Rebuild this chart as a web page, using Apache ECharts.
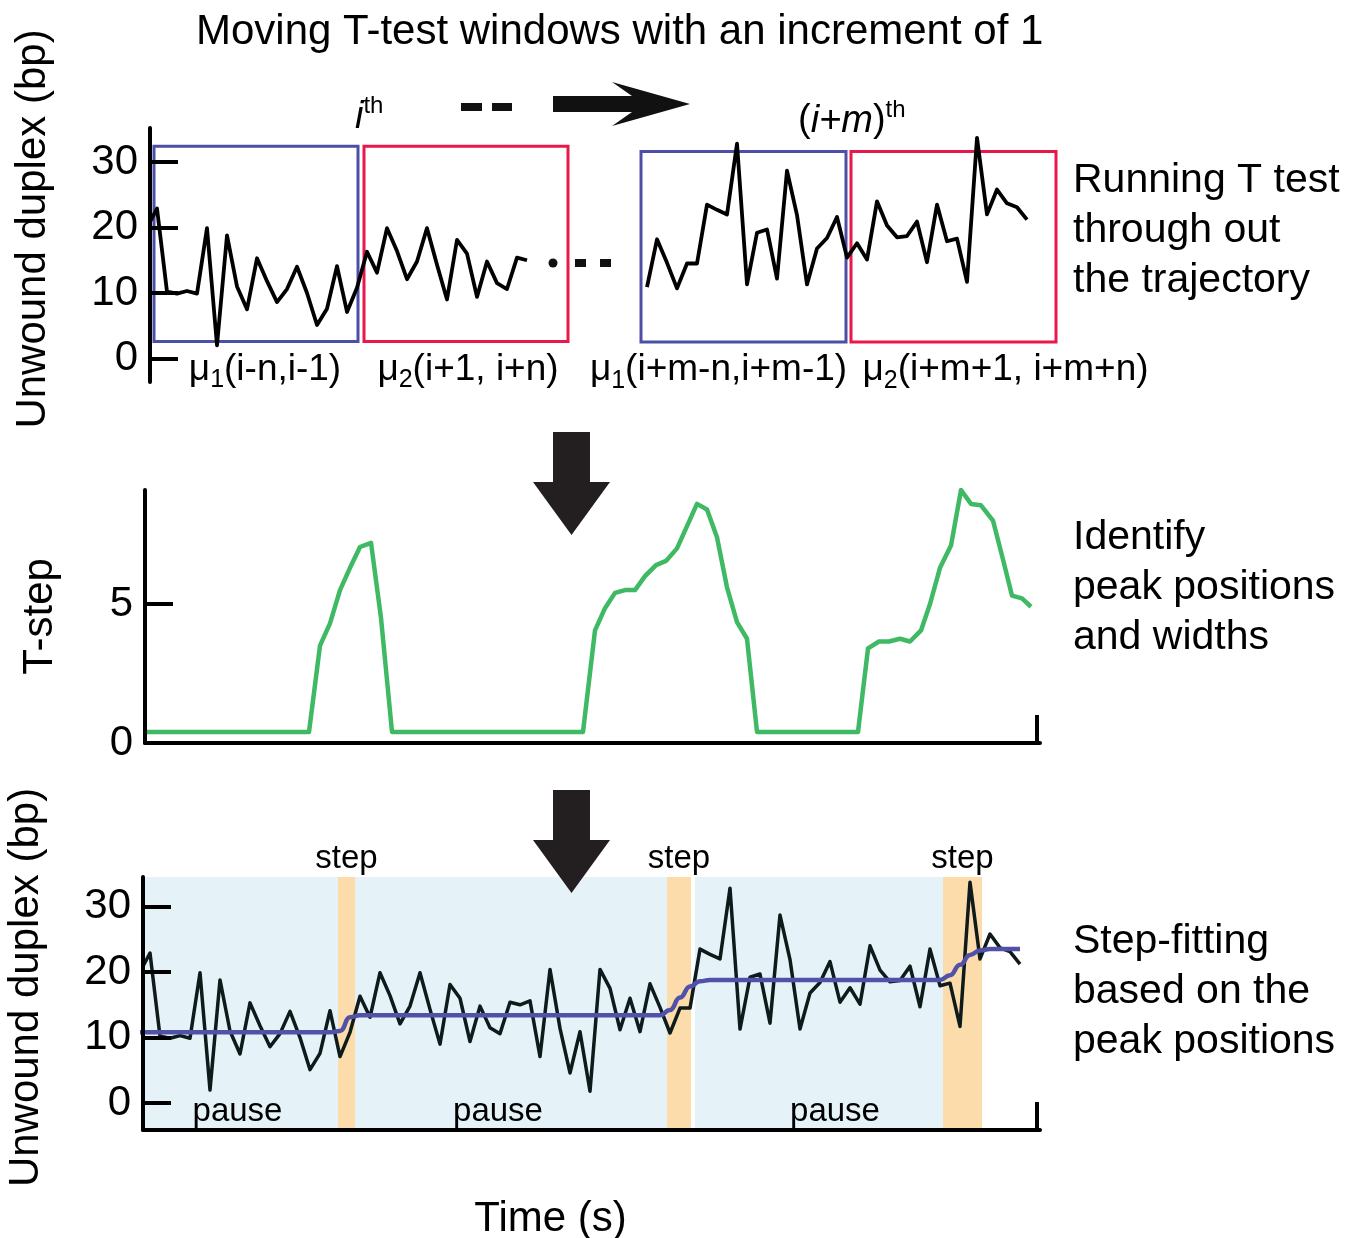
<!DOCTYPE html>
<html>
<head>
<meta charset="utf-8">
<title>Moving T-test step fitting</title>
<script src="https://cdn.jsdelivr.net/npm/echarts@6/dist/echarts.min.js"></script>
<style>
  html, body { margin: 0; padding: 0; background: #fff; }
  #chart { width: 1363px; height: 1238px; }
</style>
</head>
<body>
<div id="chart"></div>
<script>
// unwound duplex (bp), one value per time point
const duplex = [
  20.0, 22.9, 10.2, 9.9, 10.3, 9.9, 19.9, 2.0, 18.8, 11.0,
  7.5, 15.3, 11.8, 8.6, 10.6, 14.0, 10.0, 5.1, 7.6, 14.1,
  7.1, 10.8, 16.3, 13.1, 19.9, 16.4, 12.1, 14.8, 19.9, 14.3,
  9.0, 18.1, 16.0, 9.4, 14.8, 11.5, 10.6, 15.4, 15.0, 15.6,
  7.1, 20.4, 11.4, 4.6, 10.9, 1.8, 20.4, 17.5, 11.2, 16.0,
  10.9, 18.2, 14.6, 10.7, 14.5, 14.5, 23.5, 22.7, 22.0, 32.8,
  11.3, 19.2, 19.7, 12.2, 28.7, 21.9, 11.3, 16.8, 18.4, 21.6,
  15.4, 17.6, 15.1, 24.0, 20.3, 18.5, 18.7, 20.9, 14.7, 23.5,
  17.9, 18.3, 11.7, 33.7, 22.0, 25.8, 23.7, 23.1, 21.2
]

// step-fitting result on the same time points
const stepFit = [
  10.8, 10.8, 10.8, 10.8, 10.8, 10.8, 10.8, 10.8, 10.8, 10.8,
  10.8, 10.8, 10.8, 10.8, 10.8, 10.8, 10.8, 10.8, 10.8, 10.8,
  11.0, 13.1, 13.4, 13.4, 13.4, 13.4, 13.4, 13.4, 13.4, 13.4,
  13.4, 13.4, 13.4, 13.4, 13.4, 13.4, 13.4, 13.4, 13.4, 13.4,
  13.4, 13.4, 13.4, 13.4, 13.4, 13.4, 13.4, 13.4, 13.4, 13.4,
  13.4, 13.4, 13.4, 14.2, 16.1, 17.8, 18.6, 18.8, 18.8, 18.8,
  18.8, 18.8, 18.8, 18.8, 18.8, 18.8, 18.8, 18.8, 18.8, 18.8,
  18.8, 18.8, 18.8, 18.8, 18.8, 18.8, 18.8, 18.8, 18.8, 18.8,
  18.8, 19.5, 21.1, 22.6, 23.3, 23.5, 23.5, 23.5, 23.5
]

// T-step trace: time (same units as the index above) and value
const tStepTime = [
  0.5, 16.9, 18, 19, 20, 21, 22, 23.1, 24.1, 25.2,
  44.3, 45.5, 46.5, 47.5, 48.5, 49.5, 50.5, 51.6, 52.6, 53.7,
  54.7, 55.7, 56.7, 57.7, 58.7, 59.7, 60.7, 61.7,
  71.8, 72.8, 73.9, 74.9, 76, 77, 78.1, 79, 80, 81.1,
  82.1, 83.1, 84.1, 85.3, 86.3, 87.2, 88.2, 89.1
]
const tStepValue = [
  0.4, 0.4, 3.5, 4.3, 5.5, 6.3, 7.05, 7.2, 4.5, 0.4,
  0.4, 4.05, 4.85, 5.4, 5.5, 5.5, 6.0, 6.4, 6.55, 7.0,
  7.8, 8.6, 8.4, 7.4, 5.6, 4.35, 3.75, 0.4,
  0.4, 3.4, 3.65, 3.65, 3.75, 3.65, 4.05, 5.0, 6.3, 7.1,
  9.1, 8.6, 8.55, 8.0, 6.6, 5.3, 5.2, 4.9
]

const duplexTicks = [0, 10, 20, 30]
const tStepTicks = [0, 5]

// top panel only shows the start and the end of the trace
const shownFrom = [0, 50]
const shownTo = [38, 88]

// moving windows (time range, bp range)
const windowStart = [0.7, 21.7, 49.4, 70.4]
const windowEnd = [21.1, 42.1, 69.9, 90.9]
const windowHigh = [32.4, 32.4, 31.6, 31.6]
const windowLow = [2.6, 2.6, 2.5, 2.5]
const windowLabels = [
  '{t|μ}{s|1}{t|(i-n,i-1)}',
  '{t|μ}{s|2}{t|(i+1, i+n)}',
  '{t|μ}{s|1}{t|(i+m-n,i+m-1)}',
  '{t|μ}{s|2}{t|(i+m+1, i+m+n)}'
]

// pauses and steps found by the fit
const pauseStart = [0.3, 21.5, 55.5]
const pauseEnd = [19.8, 52.7, 80.3]
const stepStart = [19.8, 52.7, 80.3]
const stepEnd = [21.5, 55.1, 84.2]

const FONT = '"Liberation Sans", Arial, Helvetica, sans-serif'
const windowColor = ['#4d4fa6', '#e8184b', '#4d4fa6', '#e8184b']
const windowShift = [9, 2, -25, 52]
const pauseShift = [-3, -13, 16]

function yAxis(gridIndex, min, max, tickVals, labelVals, name, shift, gap) {
  return {
    type: 'value',
    gridIndex,
    min,
    max,
    z: 10,
    splitLine: { show: false },
    axisLine: { show: true, onZero: false, lineStyle: { color: '#000', width: 4 } },
    axisTick: { show: tickVals.length > 0, inside: true, length: 28, customValues: tickVals, lineStyle: { color: '#000', width: 4 } },
    axisLabel: { customValues: labelVals, fontSize: 42, color: '#000', fontFamily: FONT, margin: 12 },
    name,
    nameLocation: 'middle',
    nameRotate: 90,
    nameGap: gap,
    nameTextStyle: { fontSize: 42, color: '#000', fontFamily: FONT, padding: [0, 0, 0, shift] }
  }
}

function xAxis(gridIndex, min, max, show, endTick, name) {
  return {
    type: 'value',
    gridIndex,
    min,
    max,
    show,
    z: 10,
    splitLine: { show: false },
    axisLine: { show: true, onZero: false, lineStyle: { color: '#000', width: 4 } },
    axisTick: { show: true, inside: true, length: 28, customValues: endTick, lineStyle: { color: '#000', width: 4 } },
    axisLabel: { show: false },
    name,
    nameLocation: 'middle',
    nameGap: 68,
    nameTextStyle: { fontSize: 42, color: '#000', fontFamily: FONT, padding: [0, 82, 0, 0] }
  }
}

const topData = duplex.map((v, i) => {
  const shown = shownFrom.some((f, k) => i >= f && i <= shownTo[k])
  return [i, shown ? v : null]
})

const windowAreas = windowStart.map((s, k) => [
  {
    coord: [s, windowHigh[k]],
    itemStyle: { color: 'rgba(0,0,0,0)', borderColor: windowColor[k], borderWidth: 3 },
    label: {
      show: true,
      position: 'bottom',
      distance: 8,
      offset: [windowShift[k], 0],
      formatter: windowLabels[k],
      rich: {
        t: { fontSize: 37, color: '#000', fontFamily: FONT, lineHeight: 42, verticalAlign: 'top', padding: [0, 0, 10, 0] },
        s: { fontSize: 25, color: '#000', fontFamily: FONT, lineHeight: 26, verticalAlign: 'bottom' }
      }
    }
  },
  { coord: [windowEnd[k], windowLow[k]] }
])

const bandLabel = { color: '#000', fontSize: 33, fontFamily: FONT }
const bands = pauseStart.map((s, k) => [
  {
    xAxis: s,
    itemStyle: { color: '#e5f3f9' },
    label: { ...bandLabel, show: true, position: 'insideBottom', distance: 2, offset: [pauseShift[k], 0], formatter: 'pause' }
  },
  { xAxis: pauseEnd[k] }
]).concat(stepStart.map((s, k) => [
  { xAxis: s, itemStyle: { color: '#fddcab' }, label: { ...bandLabel, show: true, position: 'top', distance: 2, formatter: 'step' } },
  { xAxis: stepEnd[k] }
]))

function arrowDown(y) {
  return {
    type: 'polygon',
    z: 100,
    shape: { points: [[553, y], [590, y], [590, y + 50], [610, y + 50], [571.5, y + 103], [533, y + 50], [553, y + 50]] },
    style: { fill: '#231f20' }
  }
}

function sideText(y, text) {
  return {
    type: 'text', left: 1073, top: y,
    style: { text, lineHeight: 50, fill: '#000', font: '41px ' + FONT }
  }
}

const option = {
  animation: false,
  backgroundColor: '#fff',
  grid: [
    { left: 150, top: 128, width: 910, height: 254, outerBoundsMode: 'none' },
    { left: 145, top: 490, width: 895, height: 253, outerBoundsMode: 'none' },
    { left: 143, top: 877, width: 897, height: 253, outerBoundsMode: 'none' }
  ],
  xAxis: [
    xAxis(0, 0.3, 91.3, false, [], ''),
    xAxis(1, 0.5, 90, true, [89.7], ''),
    xAxis(2, 0.3, 90, true, [89.7], 'Time (s)')
  ],
  yAxis: [
    yAxis(0, -3.6, 35.2, duplexTicks, duplexTicks, 'Unwound duplex (bp)', 52, 96),
    yAxis(1, 0, 9.1, [5], tStepTicks, 'T-step', 0, 84),
    yAxis(2, -4.1, 34.5, duplexTicks, duplexTicks, 'Unwound duplex (bp)', 32, 96)
  ],
  series: [
    {
      name: 'windowed trace',
      type: 'line',
      xAxisIndex: 0,
      yAxisIndex: 0,
      data: topData,
      showSymbol: false,
      lineStyle: { color: '#000', width: 3.8, join: 'round' },
      markArea: { silent: true, data: windowAreas }
    },
    {
      name: 'T-step',
      type: 'line',
      xAxisIndex: 1,
      yAxisIndex: 1,
      data: tStepTime.map((t, i) => [t, tStepValue[i]]),
      showSymbol: false,
      lineStyle: { color: '#3fb963', width: 4.5, join: 'round' }
    },
    {
      name: 'trace',
      type: 'line',
      xAxisIndex: 2,
      yAxisIndex: 2,
      data: duplex.map((v, i) => [i, v]),
      showSymbol: false,
      lineStyle: { color: '#0f1a1a', width: 3.5, join: 'round' },
      markArea: { silent: true, data: bands }
    },
    {
      name: 'step fit',
      type: 'line',
      xAxisIndex: 2,
      yAxisIndex: 2,
      data: stepFit.map((v, i) => [i, v]),
      showSymbol: false,
      smooth: 0.5,
      smoothMonotone: 'x',
      lineStyle: { color: '#5251a8', width: 4.5 }
    }
  ],
  graphic: [
    {
      type: 'text', left: 196, top: 11,
      style: { text: 'Moving T-test windows with an increment of 1', font: '42px ' + FONT, fill: '#000' }
    },
    {
      type: 'text', left: 355, top: 94,
      style: {
        text: '{i|i}{s|th}',
        rich: {
          i: { font: 'italic 38px ' + FONT, fill: '#000', lineHeight: 42, verticalAlign: 'bottom' },
          s: { font: '24px ' + FONT, fill: '#000', lineHeight: 30, verticalAlign: 'top' }
        }
      }
    },
    {
      type: 'text', left: 798, top: 98,
      style: {
        text: '{p|(}{i|i+m}{p|)}{s|th}',
        rich: {
          p: { font: '38px ' + FONT, fill: '#000', lineHeight: 42, verticalAlign: 'bottom' },
          i: { font: 'italic 38px ' + FONT, fill: '#000', lineHeight: 42, verticalAlign: 'bottom' },
          s: { font: '24px ' + FONT, fill: '#000', lineHeight: 30, verticalAlign: 'top' }
        }
      }
    },
    { type: 'rect', shape: { x: 461, y: 103, width: 21, height: 8 }, style: { fill: '#111' } },
    { type: 'rect', shape: { x: 492, y: 103, width: 20, height: 8 }, style: { fill: '#111' } },
    {
      type: 'polygon',
      shape: { points: [[553, 96], [632, 96], [612, 82], [690, 104], [612, 126], [632, 112], [553, 112]] },
      style: { fill: '#111' }
    },
    { type: 'circle', shape: { cx: 553, cy: 263, r: 4.5 }, style: { fill: '#111' } },
    { type: 'rect', shape: { x: 575, y: 259, width: 11, height: 8 }, style: { fill: '#111' } },
    { type: 'rect', shape: { x: 600, y: 259, width: 11, height: 8 }, style: { fill: '#111' } },
    arrowDown(432),
    arrowDown(790),
    sideText(156, 'Running T test\nthrough out\nthe trajectory'),
    sideText(513, 'Identify\npeak positions\nand widths'),
    sideText(917, 'Step-fitting\nbased on the\npeak positions')
  ]
}

const chart = echarts.init(document.getElementById('chart'))
chart.setOption(option)
window.addEventListener('resize', () => chart.resize())
</script>
</body>
</html>
